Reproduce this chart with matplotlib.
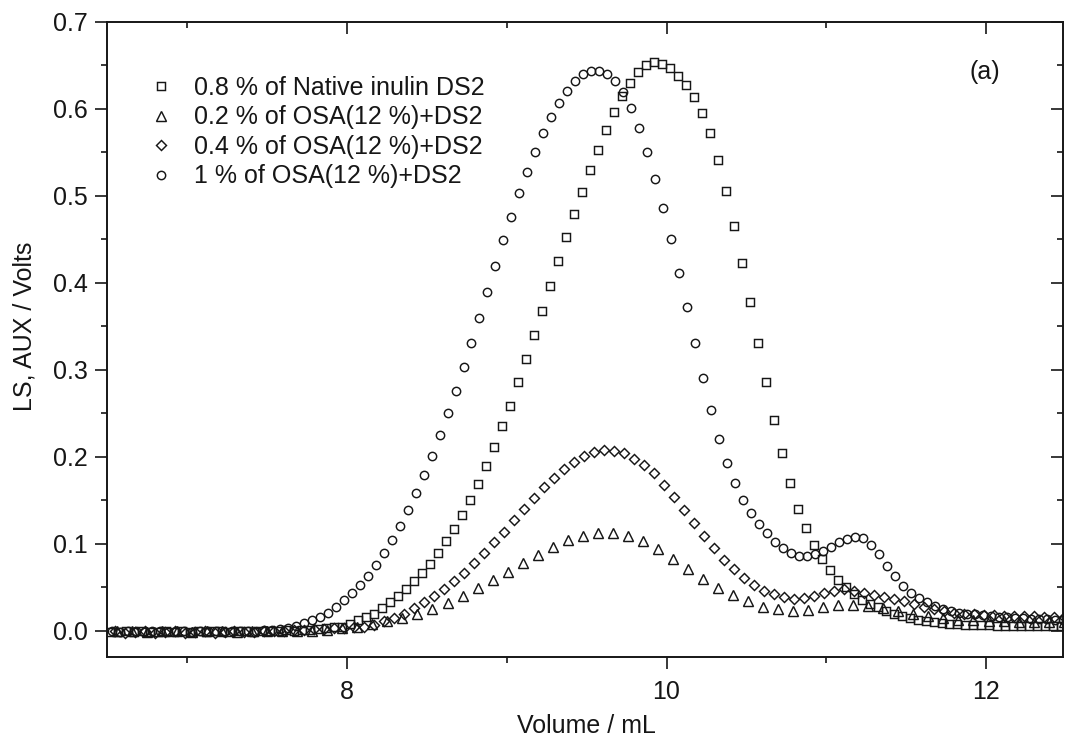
import numpy as np
import matplotlib
matplotlib.use("Agg")
import matplotlib.pyplot as plt
from matplotlib.ticker import MultipleLocator

plt.rcParams['font.family'] = ['Liberation Sans', 'DejaVu Sans']

# Elution profiles (light-scattering detector, volts) vs elution volume (mL)
labels = ["0.8 % of Native inulin DS2",
          "0.2 % of OSA(12 %)+DS2",
          "0.4 % of OSA(12 %)+DS2",
          "1 % of OSA(12 %)+DS2"]

# sampling grids: first volume and step (mL)
native_start, native_step = 6.52, 0.05
osa02_start, osa02_step = 6.562, 0.094
osa04_start, osa04_step = 6.5475, 0.0625
osa1_start, osa1_step = 6.53, 0.05

native_08 = [
    -0.001, -0.001, 0.000, -0.001, 0.000, -0.001, -0.001, 0.000, -0.001, 0.000,
    -0.001, 0.000, -0.001, 0.000, 0.000, -0.001, 0.000, 0.000, -0.001, 0.000,
    0.000, 0.000, 0.001, 0.000, 0.001, 0.001, 0.002, 0.003, 0.004, 0.005,
    0.008, 0.012, 0.016, 0.020, 0.026, 0.033, 0.040, 0.048, 0.057, 0.067,
    0.077, 0.090, 0.103, 0.117, 0.133, 0.150, 0.169, 0.190, 0.211, 0.235,
    0.258, 0.286, 0.313, 0.340, 0.368, 0.397, 0.425, 0.453, 0.479, 0.505,
    0.530, 0.553, 0.576, 0.597, 0.615, 0.630, 0.642, 0.650, 0.654, 0.652,
    0.647, 0.638, 0.628, 0.614, 0.595, 0.572, 0.541, 0.506, 0.466, 0.423,
    0.378, 0.331, 0.286, 0.243, 0.204, 0.170, 0.140, 0.118, 0.099, 0.083,
    0.070, 0.059, 0.050, 0.042, 0.036, 0.031, 0.027, 0.023, 0.020, 0.017,
    0.015, 0.013, 0.011, 0.010, 0.009, 0.008, 0.008, 0.007, 0.007, 0.007,
    0.007, 0.006, 0.006, 0.006, 0.006, 0.006, 0.006, 0.006, 0.006, 0.006,
]

osa_02 = [
    0.000, 0.000, -0.001, 0.000, 0.000, -0.001, 0.000, 0.000, -0.001, 0.000,
    0.000, 0.000, 0.000, 0.000, 0.001, 0.003, 0.005, 0.008, 0.011, 0.015,
    0.020, 0.025, 0.032, 0.040, 0.049, 0.058, 0.068, 0.078, 0.087, 0.097,
    0.104, 0.109, 0.112, 0.112, 0.109, 0.103, 0.094, 0.083, 0.071, 0.060,
    0.049, 0.041, 0.034, 0.028, 0.025, 0.023, 0.024, 0.027, 0.030, 0.030,
    0.029, 0.026, 0.023, 0.020, 0.017, 0.015, 0.013, 0.012, 0.011, 0.011,
    0.010, 0.010, 0.010, 0.010,
]

osa_04 = [
    0.000, -0.002, -0.001, 0.000, -0.002, -0.001, 0.000, -0.002, -0.001, 0.000,
    -0.002, -0.001, 0.000, -0.001, -0.001, 0.000, 0.000, 0.000, 0.001, 0.001,
    0.002, 0.002, 0.003, 0.003, 0.004, 0.005, 0.007, 0.011, 0.015, 0.020,
    0.026, 0.033, 0.040, 0.048, 0.057, 0.067, 0.078, 0.090, 0.102, 0.114,
    0.127, 0.140, 0.153, 0.165, 0.176, 0.186, 0.194, 0.201, 0.206, 0.208,
    0.207, 0.204, 0.198, 0.191, 0.181, 0.168, 0.154, 0.139, 0.124, 0.109,
    0.095, 0.082, 0.071, 0.061, 0.053, 0.046, 0.042, 0.039, 0.037, 0.038,
    0.040, 0.043, 0.046, 0.048, 0.046, 0.043, 0.041, 0.039, 0.037, 0.034,
    0.031, 0.028, 0.025, 0.023, 0.021, 0.020, 0.019, 0.018, 0.018, 0.017,
    0.017, 0.017, 0.017, 0.016, 0.016, 0.016,
]

osa_1 = [
    0.000, -0.001, 0.000, 0.000, -0.001, 0.000, 0.000, -0.001, 0.000, 0.000,
    -0.001, 0.000, 0.000, 0.000, -0.001, 0.000, 0.000, 0.000, 0.000, 0.001,
    0.001, 0.002, 0.003, 0.006, 0.009, 0.012, 0.016, 0.021, 0.027, 0.035,
    0.044, 0.053, 0.063, 0.076, 0.090, 0.105, 0.121, 0.139, 0.158, 0.179,
    0.201, 0.225, 0.250, 0.276, 0.303, 0.331, 0.360, 0.390, 0.420, 0.449,
    0.476, 0.503, 0.528, 0.551, 0.572, 0.591, 0.607, 0.621, 0.632, 0.640,
    0.644, 0.644, 0.640, 0.632, 0.619, 0.601, 0.578, 0.551, 0.520, 0.486,
    0.450, 0.412, 0.372, 0.331, 0.291, 0.254, 0.221, 0.193, 0.170, 0.151,
    0.136, 0.123, 0.112, 0.102, 0.095, 0.089, 0.086, 0.086, 0.088, 0.092,
    0.097, 0.102, 0.106, 0.108, 0.107, 0.099, 0.088, 0.075, 0.063, 0.052,
    0.044, 0.038, 0.033, 0.029, 0.025, 0.023, 0.021, 0.020, 0.019, 0.018,
    0.017, 0.016, 0.016, 0.015, 0.015, 0.014, 0.014, 0.014, 0.013, 0.013,
]


def volumes(start, step, values):
    return start + step * np.arange(len(values))


W, H = 1065, 742
fig = plt.figure(figsize=(W / 100, H / 100), dpi=100)
ax = fig.add_axes([107 / W, 1 - 657 / H, (1063 - 107) / W, (657 - 22) / H])

ink = "#161616"
fs = 18
common = dict(linestyle="none", markerfacecolor="none", markeredgecolor=ink,
              markeredgewidth=1.05)

ax.plot(volumes(native_start, native_step, native_08), native_08,
        marker="s", markersize=5.5, label=labels[0], **common)
ax.plot(volumes(osa02_start, osa02_step, osa_02), osa_02,
        marker="^", markersize=6.8, label=labels[1], **common)
ax.plot(volumes(osa04_start, osa04_step, osa_04), osa_04,
        marker="D", markersize=4.8, label=labels[2], **common)
ax.plot(volumes(osa1_start, osa1_step, osa_1), osa_1,
        marker="o", markersize=6.0, label=labels[3], **common)

ax.set_xlim(6.5, 12.48)
ax.set_ylim(-0.03, 0.7)

ax.xaxis.set_major_locator(MultipleLocator(2))
ax.xaxis.set_minor_locator(MultipleLocator(1))
ax.yaxis.set_major_locator(MultipleLocator(0.1))
ax.yaxis.set_minor_locator(MultipleLocator(0.05))
ax.yaxis.set_major_formatter(matplotlib.ticker.FormatStrFormatter("%.1f"))

for s in ax.spines.values():
    s.set_linewidth(1.4)
    s.set_color(ink)

ax.tick_params(which="major", direction="out", length=8.5, width=1.2,
               labelsize=fs, colors=ink, pad=5)
ax.tick_params(which="minor", direction="out", length=4.5, width=1.2, colors=ink)
ax.tick_params(axis="x", which="major", pad=8)
ax.tick_params(which="both", top=True, right=True)

# inward ticks on the top and right edges
for t in ax.xaxis.get_major_ticks() + ax.xaxis.get_minor_ticks():
    t.tick2line.set_marker(matplotlib.lines.TICKDOWN)
for t in ax.yaxis.get_major_ticks() + ax.yaxis.get_minor_ticks():
    t.tick2line.set_marker(matplotlib.lines.TICKLEFT)

fig.text(586 / W, 1 - 726 / H, "Volume / mL", ha="center", va="center",
         fontsize=fs, color=ink)
fig.text(25 / W, 1 - 326 / H, "LS, AUX / Volts", ha="center", va="center",
         rotation=90, fontsize=fs, color=ink)

ax.text(0.918, 0.922, "(a)", transform=ax.transAxes, ha="center", va="center",
        fontsize=fs, color=ink)

leg = ax.legend(loc="upper left", bbox_to_anchor=(0.033, 0.931), frameon=False,
                fontsize=fs, numpoints=1, handlelength=1.0,
                handletextpad=0.82, labelspacing=0.22, borderaxespad=0)
for t in leg.get_texts():
    t.set_color(ink)

fig.savefig("out.png", dpi=100)
